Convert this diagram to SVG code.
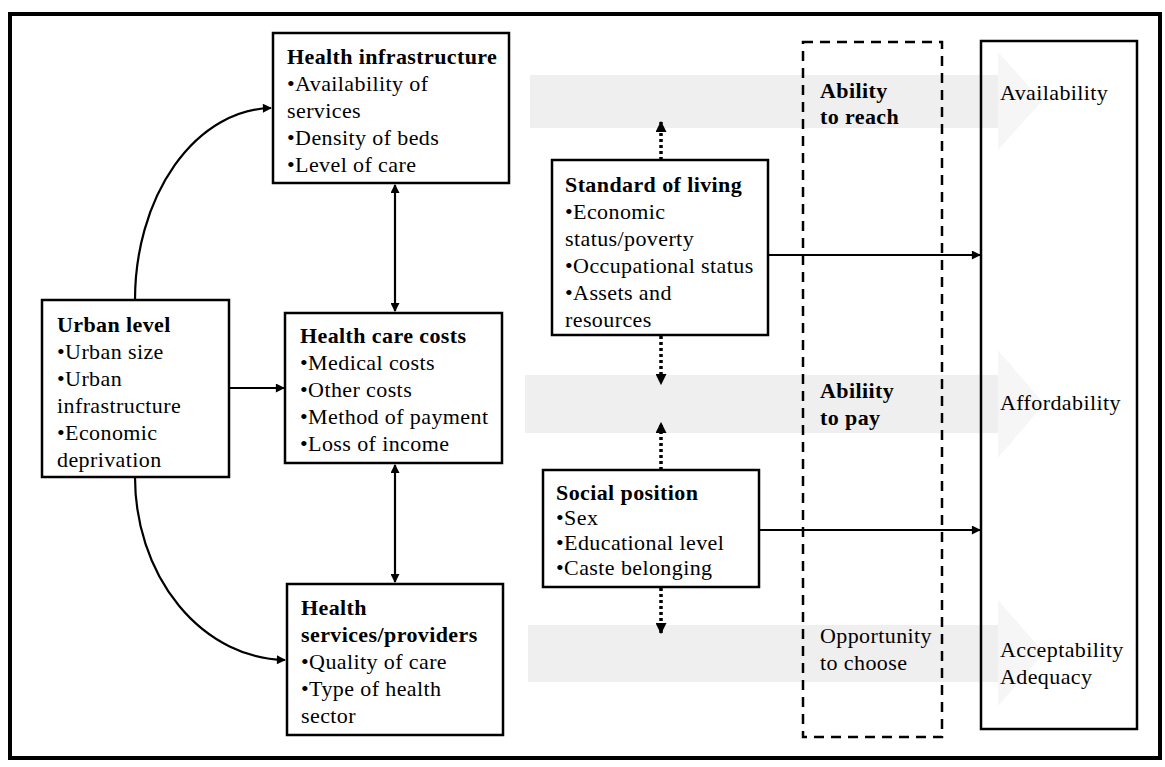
<svg xmlns="http://www.w3.org/2000/svg" width="1165" height="767" viewBox="0 0 1165 767">
  <defs>
    <marker id="ah" viewBox="0 0 10 10" refX="9" refY="5" markerWidth="10" markerHeight="9" markerUnits="userSpaceOnUse" orient="auto-start-reverse">
      <path d="M0,0 L10,5 L0,10 z" fill="#000"/>
    </marker>
    <marker id="dh" viewBox="0 0 10 10" refX="9" refY="5" markerWidth="11" markerHeight="11" markerUnits="userSpaceOnUse" orient="auto">
      <path d="M0,0 L10,5 L0,10 z" fill="#000"/>
    </marker>
  </defs>
  <style>
    .frame{fill:none;stroke:#000;stroke-width:4}
    .box{fill:#fff;stroke:#000;stroke-width:2.5}
    .open{fill:none;stroke:#000;stroke-width:2.5}
    .dash{fill:none;stroke:#000;stroke-width:2.5;stroke-dasharray:10 7}
    .ln{fill:none;stroke:#000;stroke-width:2.2}
    .dot{fill:none;stroke:#000;stroke-width:3.5;stroke-dasharray:3 3}
    .band{fill:#efefef}
    .head{fill:#f6f6f6}
    .t{font-family:"Liberation Serif","Times New Roman",serif;font-size:22px;letter-spacing:0.4px;fill:#000}
    .b{font-weight:bold}
  </style>

  <rect width="1165" height="767" fill="#fff"/>

  <!-- faint background block arrows -->
  <g id="bands">
    <rect class="band" x="530" y="75" width="468" height="53"/>
    <path class="head" d="M998,52 L1042,101 L998,150 z"/>
    <rect class="band" x="525" y="375" width="473" height="58"/>
    <path class="head" d="M998,350 L1044,404 L998,458 z"/>
    <rect class="band" x="528" y="625" width="470" height="57"/>
    <path class="head" d="M998,600 L1044,653 L998,706 z"/>
  </g>

  <rect class="frame" x="10" y="14" width="1150" height="744"/>

  <g id="connectors">
    <path class="ln" d="M135,300 A138,192 0 0 1 271,108" marker-end="url(#ah)"/>
    <path class="ln" d="M135,477 A152,183 0 0 0 285,660" marker-end="url(#ah)"/>
    <path class="ln" d="M229,388 L284,388" marker-end="url(#ah)"/>
    <path class="ln" d="M395,185 L395,311" marker-start="url(#ah)" marker-end="url(#ah)"/>
    <path class="ln" d="M395,465 L395,582" marker-start="url(#ah)" marker-end="url(#ah)"/>
    <path class="dot" d="M661,160 L661,122" marker-end="url(#dh)"/>
    <path class="dot" d="M661,336 L661,384" marker-end="url(#dh)"/>
    <path class="dot" d="M661,470 L661,423" marker-end="url(#dh)"/>
    <path class="dot" d="M661,588 L661,633" marker-end="url(#dh)"/>
    <path class="ln" d="M768,255 L980,255" marker-end="url(#ah)"/>
    <path class="ln" d="M759,530 L980,530" marker-end="url(#ah)"/>
  </g>

  <g id="health-infrastructure">
    <rect class="box" x="273" y="33" width="236" height="150"/>
    <text class="t b" x="287" y="64">Health infrastructure</text>
    <text class="t" x="287" y="91">•Availability of</text>
    <text class="t" x="287" y="118">services</text>
    <text class="t" x="287" y="145">•Density of beds</text>
    <text class="t" x="287" y="172">•Level of care</text>
  </g>

  <g id="urban-level">
    <rect class="box" x="42" y="300" width="187" height="177"/>
    <text class="t b" x="57" y="332">Urban level</text>
    <text class="t" x="57" y="359">•Urban size</text>
    <text class="t" x="57" y="386">•Urban</text>
    <text class="t" x="57" y="413">infrastructure</text>
    <text class="t" x="57" y="440">•Economic</text>
    <text class="t" x="57" y="467">deprivation</text>
  </g>

  <g id="health-care-costs">
    <rect class="box" x="285" y="313" width="217" height="150"/>
    <text class="t b" x="300" y="343">Health care costs</text>
    <text class="t" x="300" y="370">•Medical costs</text>
    <text class="t" x="300" y="397">•Other costs</text>
    <text class="t" x="300" y="424">•Method of payment</text>
    <text class="t" x="300" y="451">•Loss of income</text>
  </g>

  <g id="health-services">
    <rect class="box" x="287" y="584" width="216" height="151"/>
    <text class="t b" x="301" y="615">Health</text>
    <text class="t b" x="301" y="642">services/providers</text>
    <text class="t" x="301" y="669">•Quality of care</text>
    <text class="t" x="301" y="696">•Type of health</text>
    <text class="t" x="301" y="723">sector</text>
  </g>

  <g id="standard-of-living">
    <rect class="box" x="552" y="160" width="216" height="175"/>
    <text class="t b" x="565" y="192">Standard of living</text>
    <text class="t" x="565" y="219">•Economic</text>
    <text class="t" x="565" y="246">status/poverty</text>
    <text class="t" x="565" y="273">•Occupational status</text>
    <text class="t" x="565" y="300">•Assets and</text>
    <text class="t" x="565" y="327">resources</text>
  </g>

  <g id="social-position">
    <rect class="box" x="543" y="470" width="216" height="117"/>
    <text class="t b" x="556" y="500">Social position</text>
    <text class="t" x="556" y="525">•Sex</text>
    <text class="t" x="556" y="550">•Educational level</text>
    <text class="t" x="556" y="575">•Caste belonging</text>
  </g>

  <g id="abilities">
    <rect class="dash" x="803" y="42" width="139" height="695"/>
    <text class="t b" x="820" y="98">Ability</text>
    <text class="t b" x="820" y="124">to reach</text>
    <text class="t b" x="820" y="398">Abiliity</text>
    <text class="t b" x="820" y="425">to pay</text>
    <text class="t" x="820" y="643">Opportunity</text>
    <text class="t" x="820" y="670">to choose</text>
  </g>

  <g id="access-dimensions">
    <rect class="open" x="981" y="41" width="156" height="688"/>
    <text class="t" x="1000" y="100">Availability</text>
    <text class="t" x="1000" y="410">Affordability</text>
    <text class="t" x="1000" y="657">Acceptability</text>
    <text class="t" x="1000" y="684">Adequacy</text>
  </g>
</svg>
